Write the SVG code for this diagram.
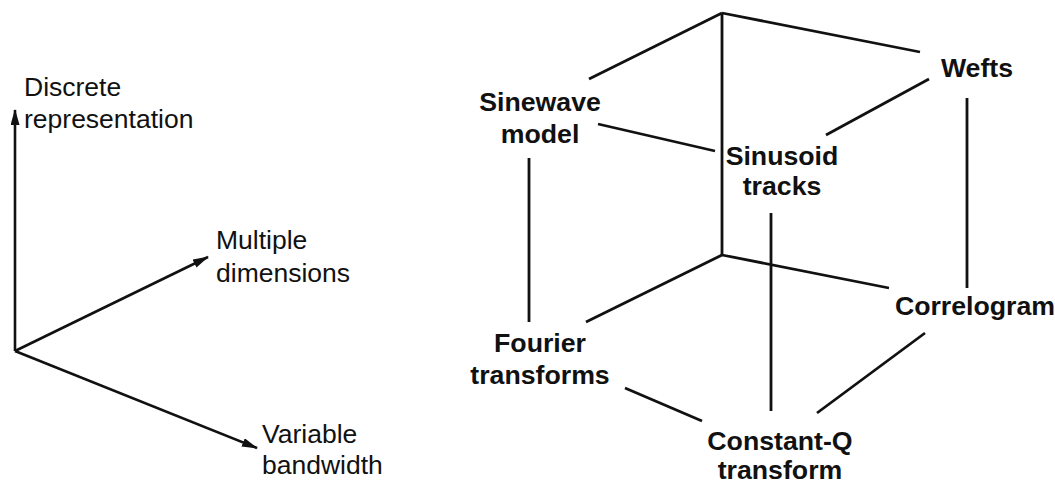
<svg xmlns="http://www.w3.org/2000/svg" width="1055" height="483" viewBox="0 0 1055 483">
<style>
.ax{stroke:#111;stroke-width:2.6;fill:none}
.ln{stroke:#111;stroke-width:2.8;fill:none;stroke-linecap:butt}
.t{font-family:"Liberation Sans",Arial,sans-serif;font-size:26.5px;fill:#111}
.b{font-family:"Liberation Sans",Arial,sans-serif;font-size:26.7px;font-weight:bold;fill:#111;text-anchor:middle}
</style>
<defs>
<marker id="ah" viewBox="0 0 16 9" refX="15" refY="4.5" markerWidth="16" markerHeight="9" markerUnits="userSpaceOnUse" orient="auto">
<path d="M0,0 L16,4.5 L0,9 Z" fill="#111"/>
</marker>
</defs>
<rect width="1055" height="483" fill="#fff"/>
<g id="axes">
<line class="ax" x1="15" y1="351" x2="15" y2="110" marker-end="url(#ah)"/>
<line class="ax" x1="15" y1="351" x2="208" y2="257" marker-end="url(#ah)"/>
<line class="ax" x1="15" y1="351" x2="257" y2="448" marker-end="url(#ah)"/>
</g>
<g id="axis-discrete"><text class="t" x="24" y="96">Discrete</text><text class="t" x="24" y="128">representation</text></g>
<g id="axis-multiple"><text class="t" x="216" y="249">Multiple</text><text class="t" x="216" y="282">dimensions</text></g>
<g id="axis-variable"><text class="t" x="262" y="443">Variable</text><text class="t" x="262" y="474">bandwidth</text></g>
<g id="connectors">
<line class="ln" x1="722" y1="13" x2="589" y2="79"/>
<line class="ln" x1="722" y1="13" x2="920" y2="52"/>
<line class="ln" x1="722" y1="13" x2="722" y2="255"/>
<line class="ln" x1="722" y1="255" x2="586" y2="322"/>
<line class="ln" x1="722" y1="255" x2="889" y2="288"/>
<line class="ln" x1="598" y1="124" x2="715" y2="151"/>
<line class="ln" x1="929" y1="79" x2="826" y2="135"/>
<line class="ln" x1="529" y1="158" x2="529" y2="322"/>
<line class="ln" x1="771" y1="213" x2="771" y2="411"/>
<line class="ln" x1="967" y1="98" x2="967" y2="288"/>
<line class="ln" x1="625" y1="388" x2="702" y2="421"/>
<line class="ln" x1="925" y1="333" x2="817" y2="413"/>
</g>
<g id="sinewave"><text class="b" x="540" y="111">Sinewave</text><text class="b" x="540" y="143">model</text></g>
<g id="sinusoid"><text class="b" x="782" y="165">Sinusoid</text><text class="b" x="782" y="195">tracks</text></g>
<g id="wefts"><text class="b" x="977" y="77">Wefts</text></g>
<g id="correlogram"><text class="b" x="975" y="315">Correlogram</text></g>
<g id="fourier"><text class="b" x="540" y="352">Fourier</text><text class="b" x="540" y="384">transforms</text></g>
<g id="constantq"><text class="b" x="780" y="450">Constant-Q</text><text class="b" x="780" y="479">transform</text></g>
</svg>
